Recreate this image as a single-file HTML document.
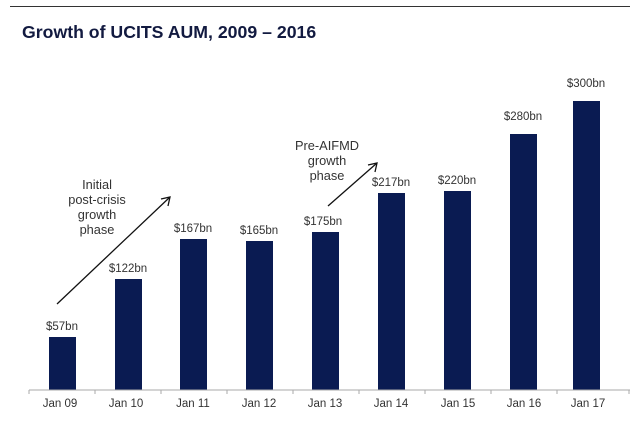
<!DOCTYPE html>
<html><head><meta charset="utf-8"><style>
html,body{margin:0;padding:0;background:#fff;width:633px;height:423px;overflow:hidden}
</style></head><body>
<svg width="633" height="423" xmlns="http://www.w3.org/2000/svg" font-family="Liberation Sans, sans-serif">
<line x1="10" y1="6.5" x2="630" y2="6.5" stroke="#333" stroke-width="1"/>
<text x="22" y="38" font-size="17.7" font-weight="bold" fill="#121a40">Growth of UCITS AUM, 2009 – 2016</text>
<g fill="#0a1b52">
<rect x="49" y="337" width="27" height="53"/>
<rect x="115" y="279" width="27" height="111"/>
<rect x="180" y="239" width="27" height="151"/>
<rect x="246" y="241" width="27" height="149"/>
<rect x="312" y="232" width="27" height="158"/>
<rect x="378" y="193" width="27" height="197"/>
<rect x="444" y="191" width="27" height="199"/>
<rect x="510" y="134" width="27" height="256"/>
<rect x="573" y="101" width="27" height="289"/>
</g>
<g font-size="11.5" fill="#333" text-anchor="middle">
<text x="62" y="330">$57bn</text>
<text x="128" y="272">$122bn</text>
<text x="193" y="232">$167bn</text>
<text x="259" y="234">$165bn</text>
<text x="323" y="225">$175bn</text>
<text x="391" y="186">$217bn</text>
<text x="457" y="184">$220bn</text>
<text x="523" y="120">$280bn</text>
<text x="586" y="87">$300bn</text>
</g>
<g font-size="12.8" fill="#333" text-anchor="middle">
<text x="97" y="189">Initial</text>
<text x="97" y="204">post-crisis</text>
<text x="97" y="219">growth</text>
<text x="97" y="234">phase</text>
<text x="327" y="150">Pre-AIFMD</text>
<text x="327" y="165">growth</text>
<text x="327" y="180">phase</text>
</g>
<g stroke="#111" stroke-width="1.3" fill="none">
<line x1="57" y1="304" x2="170" y2="197"/>
<polyline points="161,199 170,197 168,206"/>
<line x1="328" y1="206" x2="377" y2="163"/>
<polyline points="368,165 377,163 375,172"/>
</g>
<line x1="29" y1="390" x2="630" y2="390" stroke="#aaa" stroke-width="1"/>
<g stroke="#aaa" stroke-width="1">
<line x1="29" y1="390" x2="29" y2="394"/><line x1="95" y1="390" x2="95" y2="394"/><line x1="161" y1="390" x2="161" y2="394"/><line x1="227" y1="390" x2="227" y2="394"/><line x1="293" y1="390" x2="293" y2="394"/><line x1="359" y1="390" x2="359" y2="394"/><line x1="425" y1="390" x2="425" y2="394"/><line x1="491" y1="390" x2="491" y2="394"/><line x1="557" y1="390" x2="557" y2="394"/><line x1="629" y1="390" x2="629" y2="394"/>
</g>
<g font-size="11.5" fill="#333" text-anchor="middle">
<text x="60" y="407">Jan 09</text>
<text x="126" y="407">Jan 10</text>
<text x="193" y="407">Jan 11</text>
<text x="259" y="407">Jan 12</text>
<text x="325" y="407">Jan 13</text>
<text x="391" y="407">Jan 14</text>
<text x="458" y="407">Jan 15</text>
<text x="524" y="407">Jan 16</text>
<text x="588" y="407">Jan 17</text>
</g>
</svg>
</body></html>
